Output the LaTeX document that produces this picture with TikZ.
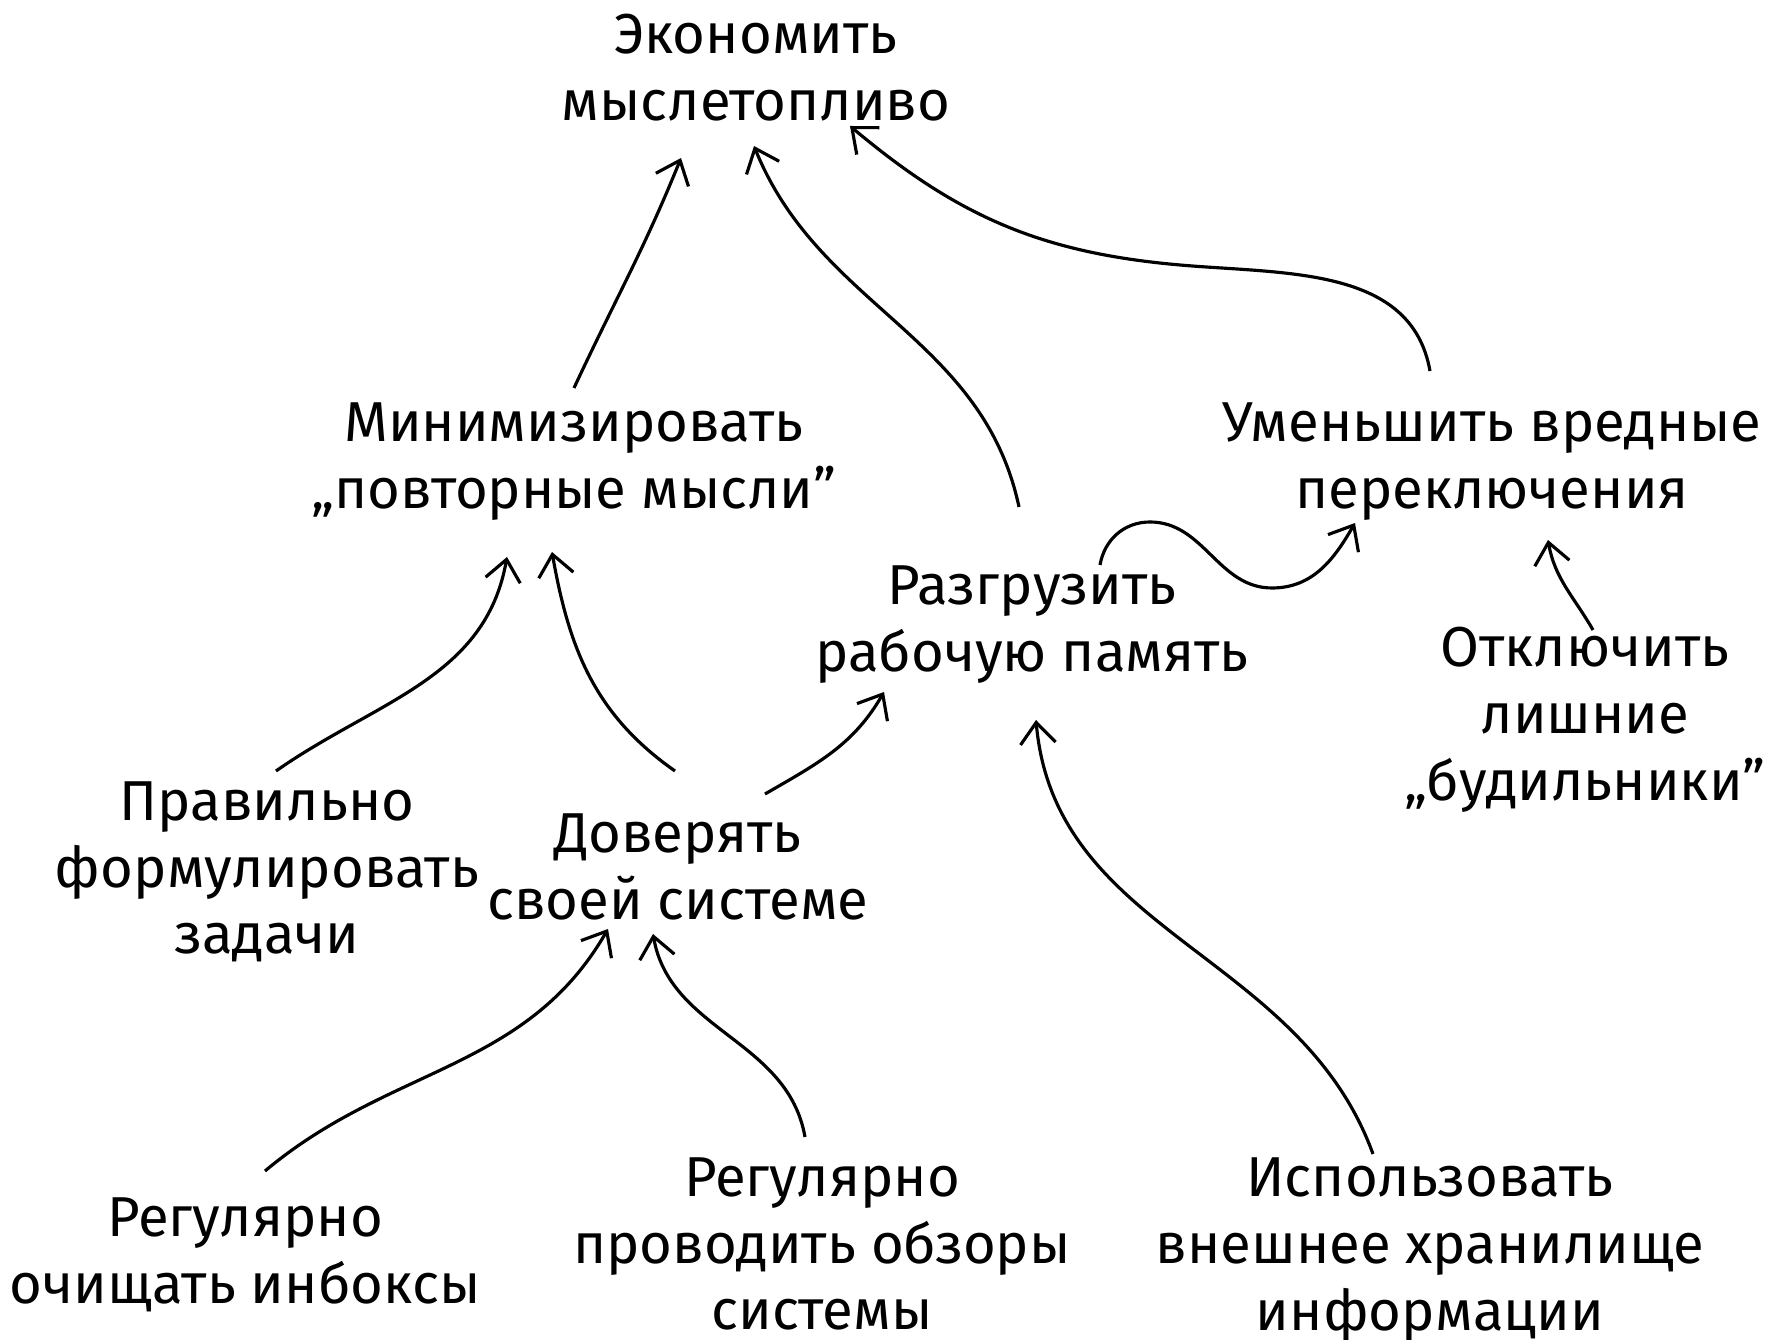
\documentclass[tikz,border=0pt]{standalone}
\usepackage{fontspec}
\setmainfont{Fira Sans}
\usetikzlibrary{arrows.meta,calc}

\begin{document}
\begin{tikzpicture}[x=0.01cm, y=0.01cm, align=center,
    every node/.style={font=\fontsize{16}{19}\selectfont, inner sep=0pt},
    link/.style={line width=0.9pt, -{Straight Barb[length=6pt,width=10pt]}}]
    \useasboundingbox (0,0) rectangle (1765,-1340);

    \node (eco)  at (756,-68)   {Экономить\\мыслетопливо};  % root
    \node (mini) at (574,-462)  {Минимизировать\\„повторные мысли"};
    \node (umen) at (1492,-462) {Уменьшить вредные\\переключения};
    \node (razg) at (1032,-625) {Разгрузить\\рабочую память};
    \node (otkl) at (1585,-720) {Отключить\\лишние\\„будильники"};
    \node (prav) at (267,-872)  {Правильно\\формулировать\\задачи};
    \node (dov)  at (678,-867)  {Доверять\\своей системе};
    \node (ochi) at (245,-1255) {Регулярно\\очищать инбоксы};
    \node (prov) at (822,-1244) {Регулярно\\проводить обзоры\\системы};
    \node (isp)  at (1430,-1250) {Использовать\\внешнее хранилище\\информации};

    % into the root
    \draw [link] ($(mini)+(0,74)$) to[out=65,in=-112] ($(eco)+(-75,-90)$);
    \draw [link] ($(razg)+(-13,118)$) to[out=102,in=-68] ($(eco)+(-2,-78)$);
    \draw [link] ($(umen)+(-62,91)$) to[out=100,in=-5] (1180,-265)
      to[out=175,in=-40] ($(eco)+(94,-58)$);
    % second level
    \draw [link] ($(razg)+(68,60)$) to[out=80,in=180] (1150,-522)
      to[out=0,in=180] (1272,-588) to[out=0,in=-120] ($(umen)+(-137,-61)$);
    \draw [link] ($(otkl)+(8,90)$) to[out=120,in=-80] ($(umen)+(56,-78)$);
    \draw [link] ($(prav)+(9,101)$) to[out=35,in=-100] ($(mini)+(-67,-95)$);
    \draw [link] ($(dov)+(-3,96)$) to[out=145,in=-80] ($(mini)+(-22,-90)$);
    \draw [link] ($(dov)+(87,73)$) to[out=30,in=-120] ($(razg)+(-148,-67)$);
    % bottom row
    \draw [link] ($(ochi)+(20,84)$) to[out=40,in=-120] ($(dov)+(-70,-62)$);
    \draw [link] ($(prov)+(-17,107)$) to[out=100,in=-80] ($(dov)+(-25,-67)$);
    \draw [link] ($(isp)+(-57,96)$) to[out=110,in=-85] ($(razg)+(4,-95)$);
\end{tikzpicture}
\end{document}
